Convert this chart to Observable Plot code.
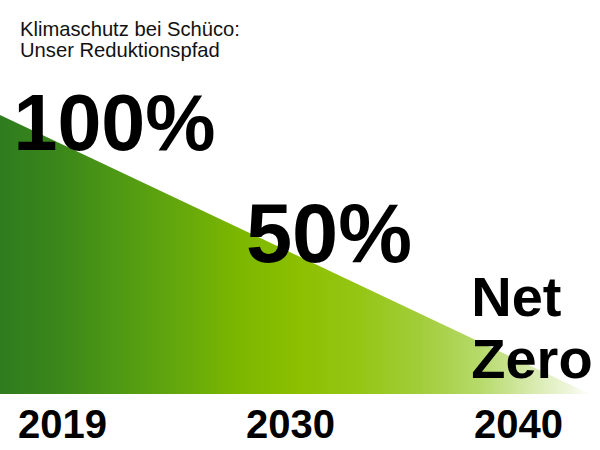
<!DOCTYPE html>
<html>
<head>
<meta charset="utf-8">
<script src="https://cdn.jsdelivr.net/npm/d3@7"></script>
<script src="https://cdn.jsdelivr.net/npm/@observablehq/plot@0.6"></script>
<style>
  html, body { margin: 0; padding: 0; background: #fff; }
  body { width: 600px; height: 450px; overflow: hidden; font-family: "Liberation Sans", Arial, Helvetica, sans-serif; }
  #title { box-sizing: border-box; height: 60px; padding: 19px 0 0 20px; font-size: 20.2px; line-height: 20.5px; color: #111; }
  #chart svg { display: block; }
</style>
</head>
<body>
<div id="title">Klimaschutz bei Schüco:<br>Unser Reduktionspfad</div>
<div id="chart"></div>
<script>
// Tick labels (years), equally spaced
const years = ["2019", "2030", "2040"];
// Reduction path (position index, emission level in %)
const pathPos = [-0.272, 2.316];
const pathLevel = [100, 0];
// Big annotations
const noteText = ["100%", "50%", "Net\nZero"];
const notePos = [0.228, 1.169, 1.793];
const noteLevel = [87.6, 47.6, 6];
const noteAnchor = ["middle", "middle", "start"];
const noteSize = [79, 83, 56];

const path = pathPos.map((p, i) => ({pos: p, level: pathLevel[i]}));
const notes = noteText.map((t, i) => ({text: t, pos: notePos[i], level: noteLevel[i], anchor: noteAnchor[i], size: noteSize[i]}));

const font = '"Liberation Sans", Arial, Helvetica, sans-serif';

const chart = Plot.plot({
  width: 600,
  height: 390,
  marginLeft: 0,
  marginRight: 0,
  marginTop: 55,
  marginBottom: 56,
  style: {fontFamily: font, background: "transparent", overflow: "visible"},
  x: {type: "linear", domain: [-0.272, 2.360], axis: null},
  y: {type: "linear", domain: [0, 100], axis: null},
  marks: [
    Plot.areaY(path, {x: "pos", y: "level", fill: "url(#reduktionGrad)"}),
    ...notes.map(n => Plot.text([n], {
      x: "pos", y: "level", text: "text",
      textAnchor: n.anchor, lineAnchor: "bottom",
      fontSize: n.size, fontWeight: "bold", fill: "#000",
      lineHeight: 1.11, fontFamily: font
    })),
    Plot.text(years, {
      x: (d, i) => i, text: d => d,
      frameAnchor: "bottom", lineAnchor: "bottom", dy: 43,
      fontSize: 40, fontWeight: "bold", fill: "#000", fontFamily: font
    })
  ]
});

const svg = d3.select(chart);
const grad = svg.insert("defs", ":first-child")
  .append("linearGradient")
  .attr("id", "reduktionGrad")
  .attr("gradientUnits", "userSpaceOnUse")
  .attr("x1", 0).attr("x2", 600).attr("y1", 0).attr("y2", 0);
const stops = [
  [0.00, "#2e7c1f"], [0.10, "#3b871a"], [0.20, "#4f9a14"], [0.30, "#65a80c"],
  [0.40, "#7cb700"], [0.50, "#8cc000"], [0.60, "#95c615"], [0.70, "#a2cd3a"],
  [0.80, "#b6da6a"], [0.88, "#d5e9a8"], [0.95, "#eef6dc"], [0.985, "#ffffff"]
];
stops.forEach(([o, c]) => grad.append("stop").attr("offset", o).attr("stop-color", c));

document.getElementById("chart").appendChild(chart);
</script>
</body>
</html>
